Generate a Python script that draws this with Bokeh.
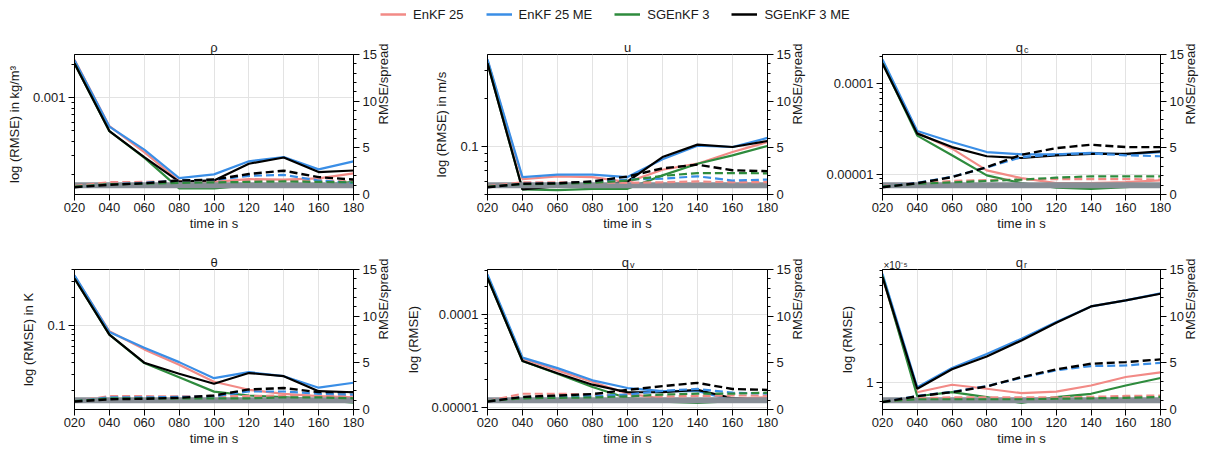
import math
from bokeh.plotting import figure
from bokeh.layouts import column, row
from bokeh.models import (Range1d, LinearAxis, LinearScale, FixedTicker, Label,
                          Legend, LegendItem, CustomJSTickFormatter)
from bokeh.embed import file_html
from bokeh.resources import INLINE

# ---------------- data ----------------
times = [20, 40, 60, 80, 100, 120, 140, 160, 180]
time_labels = ["020", "040", "060", "080", "100", "120", "140", "160", "180"]
series = ["EnKF 25", "EnKF 25 ME", "SGEnKF 3", "SGEnKF 3 ME"]
ideal_ratio = 1.0
ratio_ticks = [0, 5, 10, 15]

rho_rmse = {
    "EnKF 25":     [2.2e-3, 5.5e-4, 3.2e-4, 1.75e-4, 1.72e-4, 1.82e-4, 1.8e-4, 1.85e-4, 2.05e-4],
    "EnKF 25 ME":  [2.18e-3, 5.45e-4, 3.37e-4, 1.86e-4, 2.01e-4, 2.64e-4, 2.88e-4, 2.23e-4, 2.64e-4],
    "SGEnKF 3":    [2.05e-3, 4.95e-4, 2.85e-4, 1.5e-4, 1.5e-4, 1.6e-4, 1.62e-4, 1.6e-4, 1.72e-4],
    "SGEnKF 3 ME": [2.04e-3, 4.97e-4, 2.88e-4, 1.73e-4, 1.77e-4, 2.51e-4, 2.86e-4, 2.11e-4, 2.18e-4],
}
rho_ratio = {
    "EnKF 25":     [0.9, 1.32, 1.35, 1.5, 1.45, 1.5, 1.5, 1.5, 1.4],
    "EnKF 25 ME":  [0.8, 1.1, 1.25, 1.5, 1.55, 2.0, 2.1, 1.5, 1.25],
    "SGEnKF 3":    [0.85, 1.1, 1.15, 1.25, 1.3, 1.35, 1.4, 1.35, 1.3],
    "SGEnKF 3 ME": [0.78, 1.04, 1.2, 1.5, 1.6, 2.2, 2.55, 1.86, 1.6],
}
u_rmse = {
    "EnKF 25":     [0.35, 0.062, 0.0646, 0.064, 0.0595, 0.0712, 0.0777, 0.092, 0.1065],
    "EnKF 25 ME":  [0.353, 0.064, 0.0663, 0.0663, 0.064, 0.083, 0.101, 0.099, 0.113],
    "SGEnKF 3":    [0.335, 0.0535, 0.053, 0.054, 0.054, 0.0656, 0.0777, 0.0877, 0.1005],
    "SGEnKF 3 ME": [0.333, 0.0535, 0.056, 0.056, 0.06, 0.0856, 0.1025, 0.099, 0.108],
}
u_ratio = {
    "EnKF 25":     [0.9, 1.3, 1.3, 1.3, 1.25, 1.32, 1.4, 1.32, 1.32],
    "EnKF 25 ME":  [0.8, 1.15, 1.2, 1.35, 1.6, 1.7, 1.95, 1.5, 1.6],
    "SGEnKF 3":    [0.85, 1.1, 1.15, 1.25, 1.5, 2.0, 2.3, 2.3, 2.27],
    "SGEnKF 3 ME": [0.78, 1.15, 1.2, 1.4, 1.93, 2.8, 3.2, 2.6, 2.5],
}
qc_rmse = {
    "EnKF 25":     [1.8e-4, 2.9e-5, 1.94e-5, 1.12e-5, 9.2e-6, 8.1e-6, 8.1e-6, 8.3e-6, 8.7e-6],
    "EnKF 25 ME":  [1.86e-4, 3.03e-5, 2.3e-5, 1.78e-5, 1.68e-5, 1.68e-5, 1.74e-5, 1.68e-5, 1.78e-5],
    "SGEnKF 3":    [1.7e-4, 2.7e-5, 1.64e-5, 9.85e-6, 8.1e-6, 7.2e-6, 7.0e-6, 7.3e-6, 7.7e-6],
    "SGEnKF 3 ME": [1.68e-4, 2.84e-5, 2.02e-5, 1.6e-5, 1.53e-5, 1.64e-5, 1.7e-5, 1.7e-5, 1.81e-5],
}
qc_ratio = {
    "EnKF 25":     [0.9, 1.25, 1.45, 1.55, 1.6, 1.65, 1.65, 1.65, 1.6],
    "EnKF 25 ME":  [0.85, 1.25, 1.9, 2.9, 4.0, 4.3, 4.4, 4.2, 4.1],
    "SGEnKF 3":    [0.85, 1.15, 1.3, 1.45, 1.6, 1.8, 1.95, 1.95, 1.95],
    "SGEnKF 3 ME": [0.78, 1.21, 1.86, 2.93, 4.26, 4.97, 5.33, 5.08, 5.08],
}
theta_rmse = {
    "EnKF 25":     [0.34, 0.087, 0.0556, 0.038, 0.025, 0.0205, 0.0185, 0.0175, 0.017],
    "EnKF 25 ME":  [0.347, 0.0853, 0.058, 0.0406, 0.0273, 0.0317, 0.0287, 0.0216, 0.0244],
    "SGEnKF 3":    [0.32, 0.08, 0.0397, 0.028, 0.0196, 0.0178, 0.0171, 0.0161, 0.0149],
    "SGEnKF 3 ME": [0.32, 0.08, 0.04, 0.0305, 0.0238, 0.031, 0.0287, 0.0198, 0.0193],
}
theta_ratio = {
    "EnKF 25":     [0.9, 1.43, 1.43, 1.4, 1.43, 1.43, 1.5, 1.5, 1.5],
    "EnKF 25 ME":  [0.9, 1.3, 1.3, 1.35, 1.4, 1.93, 1.93, 1.68, 1.6],
    "SGEnKF 3":    [0.9, 1.2, 1.2, 1.2, 1.2, 1.2, 1.3, 1.3, 1.2],
    "SGEnKF 3 ME": [0.85, 1.1, 1.15, 1.25, 1.5, 2.15, 2.3, 1.86, 1.86],
}
qv_rmse = {
    "EnKF 25":     [2.6e-4, 3.34e-5, 2.5e-5, 1.87e-5, 1.4e-5, 1.24e-5, 1.22e-5, 1.24e-5, 1.28e-5],
    "EnKF 25 ME":  [2.71e-4, 3.43e-5, 2.64e-5, 1.95e-5, 1.61e-5, 1.49e-5, 1.5e-5, 1.18e-5, 1.2e-5],
    "SGEnKF 3":    [2.5e-4, 3.15e-5, 2.3e-5, 1.65e-5, 1.25e-5, 1.15e-5, 1.11e-5, 1.16e-5, 1.18e-5],
    "SGEnKF 3 ME": [2.49e-4, 3.15e-5, 2.33e-5, 1.75e-5, 1.45e-5, 1.45e-5, 1.54e-5, 1.25e-5, 1.18e-5],
}
qv_ratio = {
    "EnKF 25":     [0.9, 1.69, 1.69, 1.6, 1.45, 1.4, 1.45, 1.5, 1.5],
    "EnKF 25 ME":  [0.9, 1.3, 1.35, 1.45, 1.6, 2.0, 2.2, 1.8, 1.7],
    "SGEnKF 3":    [0.9, 1.2, 1.25, 1.3, 1.4, 1.6, 1.7, 1.7, 1.8],
    "SGEnKF 3 ME": [0.85, 1.35, 1.5, 1.65, 2.1, 2.5, 2.85, 2.2, 2.1],
}
qr_rmse = {  # in units of 1e-5
    "EnKF 25":     [7.0, 0.83, 0.953, 0.885, 0.815, 0.84, 0.94, 1.1, 1.2],
    "EnKF 25 ME":  [7.48, 0.91, 1.3, 1.69, 2.24, 3.05, 4.08, 4.56, 5.2],
    "SGEnKF 3":    [7.2, 0.77, 0.83, 0.757, 0.68, 0.757, 0.806, 0.94, 1.08],
    "SGEnKF 3 ME": [7.03, 0.885, 1.27, 1.61, 2.17, 3.01, 4.08, 4.56, 5.16],
}
qr_ratio = {
    "EnKF 25":     [0.85, 1.2, 1.3, 1.3, 1.3, 1.3, 1.35, 1.45, 1.5],
    "EnKF 25 ME":  [0.8, 1.45, 1.9, 2.5, 3.4, 4.2, 4.65, 4.72, 5.0],
    "SGEnKF 3":    [0.85, 1.1, 1.1, 1.1, 1.1, 1.15, 1.2, 1.25, 1.35],
    "SGEnKF 3 ME": [0.79, 1.43, 1.86, 2.47, 3.47, 4.3, 4.9, 5.08, 5.37],
}

# ---------------- style ----------------
FONT = "Liberation Sans"
TXT = "#1a1a1a"
colors = {"EnKF 25": "#f28a86", "EnKF 25 ME": "#3a8ee6",
          "SGEnKF 3": "#2e8b3d", "SGEnKF 3 ME": "#000000"}
BAND = "#878e96"
FRAME_H = 140

panels = [
    # title, sub, ylabel, rmse, ratio, (lo, hi), major ticks, major labels, col, row, exponent
    ("ρ", "", "log (RMSE) in kg/m³", rho_rmse, rho_ratio, (1.32e-4, 2.46e-3), [1e-3], ["0.001"], 0, 0, ""),
    ("u", "", "log (RMSE) in m/s", u_rmse, u_ratio, (0.0497, 0.379), [0.1], ["0.1"], 1, 0, ""),
    ("q", "c", "", qc_rmse, qc_ratio, (6.07e-6, 2.11e-4), [1e-5, 1e-4], ["0.00001", "0.0001"], 2, 0, ""),
    ("θ", "", "log (RMSE) in K", theta_rmse, theta_ratio, (0.0126, 0.4), [0.1], ["0.1"], 0, 1, ""),
    ("q", "v", "log (RMSE)", qv_rmse, qv_ratio, (9.44e-6, 3.07e-4), [1e-5, 1e-4], ["0.00001", "0.0001"], 1, 1, ""),
    ("q", "r", "log (RMSE)", qr_rmse, qr_ratio, (0.602, 8.1), [1.0], ["1"], 2, 1, "×10⁻⁵"),
]

col_geom = [(74, 279, 47), (86, 280, 47), (67, 278, 47)]  # left border, frame width, right border
row_geom = [(26, 39), (36, 42)]  # top border, bottom border
LEGEND_H = 28
# approximate heights of stacked label panels above the frame
H_TITLE = 14.5
H_SUB = 10.0

LOOKUP_JS = """
for (let i = 0; i < tvals.length; i++) {
    if (Math.abs(tick - tvals[i]) <= 1e-6 * Math.max(1e-12, Math.abs(tvals[i]))) return tlabels[i];
}
return '';
"""


def minor_log_ticks(lo, hi):
    out = []
    for e in range(math.floor(math.log10(lo)) - 1, math.ceil(math.log10(hi)) + 1):
        for m in range(2, 10):
            v = m * 10.0 ** e
            if lo <= v <= hi:
                out.append(v)
    return out


def style_axis(ax):
    ax.axis_line_color = "black"
    ax.major_tick_line_color = "black"
    ax.minor_tick_line_color = "black"
    ax.major_tick_out = 6
    ax.major_tick_in = 0
    ax.minor_tick_out = 3
    ax.minor_tick_in = 0
    ax.major_label_text_font = FONT
    ax.major_label_text_font_size = "13px"
    ax.major_label_text_color = TXT
    ax.axis_label_text_font = FONT
    ax.axis_label_text_font_size = "13px"
    ax.axis_label_text_font_style = "normal"
    ax.axis_label_text_color = TXT


def top_label(text, x, y, size, align):
    return Label(x=x, y=y, x_units="screen", y_units="screen", text=text,
                 text_font=FONT, text_font_size=size, text_color=TXT,
                 text_align=align, text_baseline="alphabetic")


def make_panel(cfg):
    title, sub, ylabel, rmse, ratio, (lo, hi), majors, major_labels, c, r, expo = cfg
    lb, fw, rb = col_geom[c]
    tb, bb = row_geom[r]
    p = figure(frame_width=fw, frame_height=FRAME_H,
               x_range=Range1d(times[0], times[-1]), y_range=Range1d(lo, hi),
               y_axis_type="log", output_backend="svg", toolbar_location=None,
               min_border_left=lb, min_border_right=rb, min_border_top=tb, min_border_bottom=bb)
    p.extra_y_ranges = {"ratio": Range1d(0, 15)}
    p.extra_y_scales = {"ratio": LinearScale()}
    p.outline_line_color = "black"
    p.outline_line_width = 1
    p.background_fill_color = "white"
    p.border_fill_color = "white"

    # x axis
    xa = p.xaxis[0]
    xa.ticker = FixedTicker(ticks=times, minor_ticks=[])
    xa.formatter = CustomJSTickFormatter(args=dict(tvals=times, tlabels=time_labels), code=LOOKUP_JS)
    xa.axis_label = "time in s"
    style_axis(xa)
    xa.major_label_standoff = 2
    xa.axis_label_standoff = 1

    # left log axis
    ya = p.yaxis[0]
    ya.ticker = FixedTicker(ticks=majors, minor_ticks=minor_log_ticks(lo, hi))
    ya.formatter = CustomJSTickFormatter(args=dict(tvals=majors, tlabels=major_labels), code=LOOKUP_JS)
    ya.axis_label = ylabel if ylabel else None
    style_axis(ya)
    ya.major_label_standoff = 3
    ya.axis_label_standoff = 8

    # right linear axis
    ra = LinearAxis(y_range_name="ratio",
                    ticker=FixedTicker(ticks=ratio_ticks, minor_ticks=list(range(0, 16))),
                    axis_label="RMSE/spread")
    style_axis(ra)
    ra.major_label_standoff = 3
    ra.axis_label_standoff = 4
    ra.axis_label_orientation = math.pi / 2
    p.add_layout(ra, "right")

    # grids
    p.xgrid.ticker = FixedTicker(ticks=times)
    p.ygrid.ticker = FixedTicker(ticks=majors)
    p.xgrid.grid_line_color = "#e3e3e3"
    p.ygrid.grid_line_color = "#e3e3e3"

    # solid RMSE lines
    for s in series:
        p.line(times, rmse[s], line_color=colors[s], line_width=2.2)
    # reference band at ratio = 1
    p.line([times[0], times[-1]], [ideal_ratio, ideal_ratio], y_range_name="ratio",
           line_color=BAND, line_width=6)
    # dashed ratio lines
    for s in series:
        p.line(times, ratio[s], y_range_name="ratio", line_color=colors[s],
               line_width=2.4 if s == "SGEnKF 3 ME" else 2.2, line_dash="8 4")

    # titles: labels stacked in the "above" side panel (first one sits on the frame)
    p.title.visible = False
    if sub:
        p.add_layout(top_label(title, fw / 2 + 1.5, 7, "13px", "right"), "above")
        p.add_layout(top_label(sub, fw / 2 + 2.5, 4 - H_TITLE, "9px", "left"), "above")
    else:
        p.add_layout(top_label(title, fw / 2, 7, "13px", "center"), "above")
    if expo:
        p.add_layout(top_label(expo, 1, 4 - H_TITLE - H_SUB, "10px", "left"), "above")
    return p


figs = [make_panel(cfg) for cfg in panels]

# legend strip
lg = figure(width=1205, height=LEGEND_H, toolbar_location=None, output_backend="svg",
            x_range=Range1d(0, 1), y_range=Range1d(0, 1),
            x_axis_location=None, y_axis_location=None, min_border=0)
lg.grid.visible = False
lg.outline_line_color = None
items = []
nan = float("nan")
for s in series:
    rr = lg.line(x=[nan, nan], y=[nan, nan], line_color=colors[s], line_width=2.5)
    items.append(LegendItem(label=s, renderers=[rr]))
legend = Legend(items=items, orientation="horizontal", location=(380, 4),
                glyph_width=26, glyph_height=20, label_height=20, label_standoff=7,
                spacing=22, padding=0, margin=0, border_line_color=None,
                background_fill_alpha=0, label_text_font=FONT, label_text_font_size="13px",
                label_text_color=TXT)
lg.add_layout(legend, "center")

layout = column(lg, row(figs[0], figs[1], figs[2]), row(figs[3], figs[4], figs[5]))

open("out.html", "w").write(file_html(layout, INLINE))
